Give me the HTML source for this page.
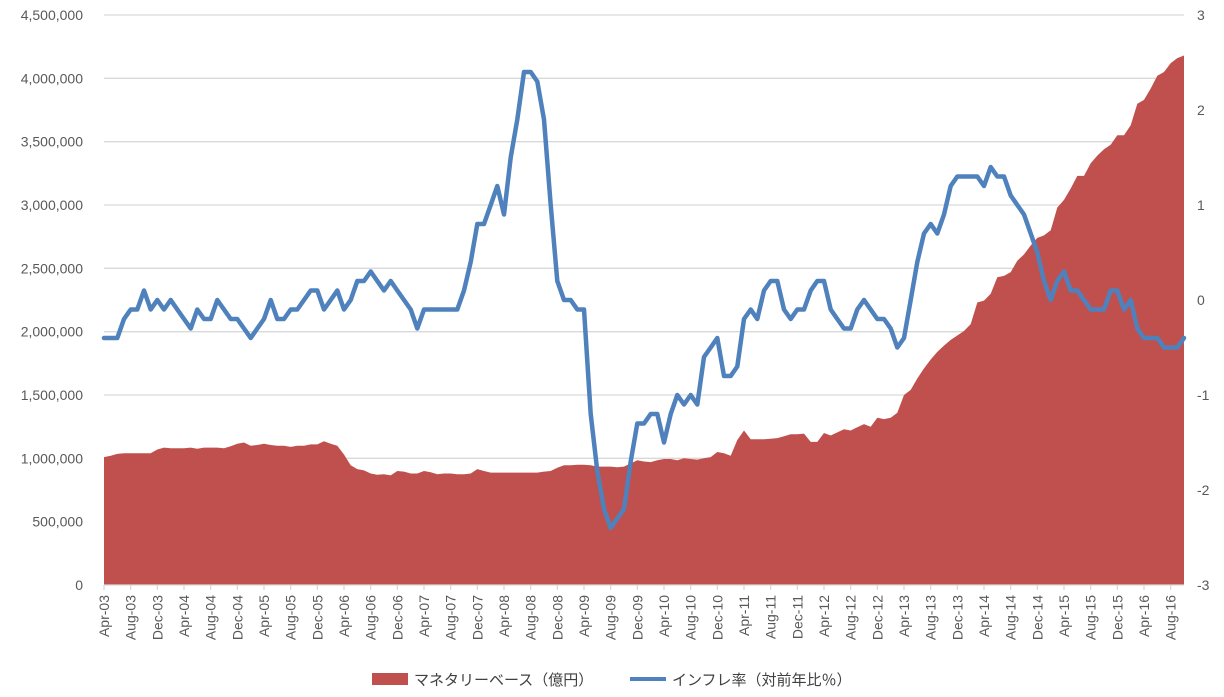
<!DOCTYPE html>
<html><head><meta charset="utf-8"><style>
body{margin:0;background:#fff;}
svg{display:block;font-family:"Liberation Sans","Noto Sans CJK JP",sans-serif;}
</style></head><body>
<svg id="chart" width="1224" height="697" viewBox="0 0 1224 697" xmlns="http://www.w3.org/2000/svg">
<g id="grid"></g>
<g id="area"></g>
<g id="line"></g>
<g id="axes"></g>
<g id="legend">
<rect x="372" y="673" width="36" height="12" fill="#c0504d"/>
<text x="414" y="685" font-size="15" fill="#404040">マネタリーベース（億円）</text>
<line x1="630" y1="679" x2="666" y2="679" stroke="#4f81bd" stroke-width="4"/>
<text x="672" y="685" font-size="15" fill="#404040">インフレ率（対前年比％）</text>
</g>
</svg>
<script>
const moneyBase=[1010000,1020000,1035000,1040000,1040000,1040000,1040000,1040000,1070000,1085000,
1080000,1080000,1080000,1085000,1075000,1085000,1085000,1085000,1080000,1095000,
1115000,1125000,1100000,1105000,1115000,1105000,1100000,1100000,1090000,1100000,
1100000,1110000,1110000,1135000,1115000,1100000,1030000,945000,915000,905000,
880000,870000,875000,865000,900000,895000,880000,880000,900000,890000,
875000,880000,880000,875000,875000,880000,915000,900000,887000,887000,
887000,887000,887000,887000,887000,887000,895000,900000,925000,945000,
945000,950000,950000,945000,935000,935000,935000,930000,935000,960000,
985000,975000,970000,985000,995000,995000,985000,1000000,995000,990000,
1000000,1010000,1050000,1040000,1020000,1145000,1220000,1150000,1150000,1150000,
1155000,1160000,1175000,1190000,1190000,1195000,1130000,1130000,1200000,1180000,
1205000,1230000,1220000,1245000,1270000,1250000,1320000,1310000,1320000,1360000,
1500000,1540000,1630000,1710000,1780000,1840000,1890000,1935000,1970000,2005000,
2060000,2230000,2245000,2300000,2430000,2440000,2470000,2560000,2610000,2680000,
2740000,2760000,2800000,2980000,3040000,3130000,3230000,3230000,3330000,3390000,
3440000,3475000,3550000,3550000,3630000,3800000,3830000,3920000,4020000,4050000,
4120000,4160000,4180000];
const inflation=[-0.4,-0.4,-0.4,-0.2,-0.1,-0.1,0.1,-0.1,0,-0.1,
0,-0.1,-0.2,-0.3,-0.1,-0.2,-0.2,0,-0.1,-0.2,
-0.2,-0.3,-0.4,-0.3,-0.2,0,-0.2,-0.2,-0.1,-0.1,
0,0.1,0.1,-0.1,0,0.1,-0.1,0,0.2,0.2,
0.3,0.2,0.1,0.2,0.1,0,-0.1,-0.3,-0.1,-0.1,
-0.1,-0.1,-0.1,-0.1,0.1,0.4,0.8,0.8,1.0,1.2,
0.9,1.5,1.9,2.4,2.4,2.3,1.9,1.0,0.2,0,
0,-0.1,-0.1,-1.2,-1.8,-2.2,-2.4,-2.3,-2.2,-1.7,
-1.3,-1.3,-1.2,-1.2,-1.5,-1.2,-1.0,-1.1,-1.0,-1.1,
-0.6,-0.5,-0.4,-0.8,-0.8,-0.7,-0.2,-0.1,-0.2,0.1,
0.2,0.2,-0.1,-0.2,-0.1,-0.1,0.1,0.2,0.2,-0.1,
-0.2,-0.3,-0.3,-0.1,0,-0.1,-0.2,-0.2,-0.3,-0.5,
-0.4,0,0.4,0.7,0.8,0.7,0.9,1.2,1.3,1.3,
1.3,1.3,1.2,1.4,1.3,1.3,1.1,1.0,0.9,0.7,
0.5,0.2,0,0.2,0.3,0.1,0.1,0,-0.1,-0.1,
-0.1,0.1,0.1,-0.1,0,-0.3,-0.4,-0.4,-0.4,-0.5,
-0.5,-0.5,-0.4];
const leftTicks=[0,500000,1000000,1500000,2000000,2500000,3000000,3500000,4000000,4500000];
const rightTicks=[-3,-2,-1,0,1,2,3];
const monthNames=["Jan","Feb","Mar","Apr","May","Jun","Jul","Aug","Sep","Oct","Nov","Dec"];
const startYear=2003,startMonth=3;

const NS="http://www.w3.org/2000/svg";
const X0=104,X1=1184,YT=15,YB=585;
const n=moneyBase.length;
const xs=i=>X0+i*(X1-X0)/(n-1);
const yL=v=>YB-(v/4500000)*(YB-YT);
const yR=v=>YB-((v+3)/6)*(YB-YT);
function mk(tag,attrs,parent){const e=document.createElementNS(NS,tag);for(const k in attrs)e.setAttribute(k,attrs[k]);parent.appendChild(e);return e;}
const grid=document.getElementById('grid'),axes=document.getElementById('axes');
leftTicks.forEach(v=>{
  const y=yL(v);
  if(v>0){const g=mk('line',{x1:X0,x2:X1,y1:y,y2:y,stroke:'#d9d9d9','stroke-width':1.3},grid);
  
  }
  const t=mk('text',{x:83,y:y+5,'text-anchor':'end','font-size':14,fill:'#595959'},axes);
  t.textContent=v.toLocaleString('en-US');
  
  
});
rightTicks.forEach(v=>{
  const t=mk('text',{x:1197,y:yR(v)+5,'font-size':14,fill:'#595959'},axes);
  t.textContent=v;
  
  
});
const ax=mk('line',{x1:X0,x2:X1,y1:YB,y2:YB,stroke:'#d9d9d9','stroke-width':1.3},axes);


for(let i=0;i<n;i+=4){
  const x=xs(i);
  const tk=mk('line',{x1:x,x2:x,y1:YB,y2:YB+5,stroke:'#d9d9d9','stroke-width':1.3},axes);
  
  
  const m=(startMonth+i)%12,yr=startYear+Math.floor((startMonth+i)/12);
  const lab=monthNames[m]+'-'+String(yr%100).padStart(2,'0');
  const t=mk('text',{x:0,y:0,'text-anchor':'end','font-size':14,fill:'#595959',transform:`translate(${x+5},${YB+10}) rotate(-90)`},axes);
  t.textContent=lab;
  
  
}
let d=`M${xs(0)},${YB}`;
moneyBase.forEach((v,i)=>{d+=` L${xs(i).toFixed(1)},${yL(v).toFixed(1)}`;});
d+=` L${xs(n-1)},${YB} Z`;
const ar=mk('path',{d:d,fill:'#c0504d'},document.getElementById('area'));


const pts=inflation.map((v,i)=>xs(i).toFixed(1)+','+yR(v).toFixed(1)).join(' ');
const ln=mk('polyline',{points:pts,fill:'none',stroke:'#4f81bd','stroke-width':4.5,'stroke-linejoin':'round','stroke-linecap':'round'},document.getElementById('line'));


</script>
</body></html>
